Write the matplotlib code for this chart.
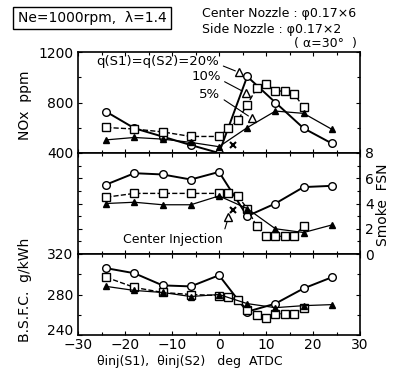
import numpy as np
import matplotlib
matplotlib.use("Agg")
import matplotlib.pyplot as plt

# q = 20 % (circles)
x20 = [-24, -18, -12, -6, 0, 6, 12, 18, 24]
nox20 = [727, 596, 530, 463, 400, 1006, 800, 596, 476]
smoke20 = [5.5, 6.4, 6.3, 5.9, 6.5, 3.0, 4.0, 5.3, 5.4]
bsfc20 = [306, 301, 289, 288, 299, 263, 271, 286, 297]

# q = 10 % (squares)
x10 = [-24, -18, -12, -6, 0, 2, 4, 6, 8, 10, 12, 14, 16, 18]
nox10 = [602, 590, 567, 531, 531, 595, 658, 784, 912, 950, 892, 890, 868, 763]
smoke10 = [4.5, 4.8, 4.8, 4.8, 4.8, 4.8, 4.6, 3.6, 2.2, 1.4, 1.4, 1.4, 1.45, 2.2]
bsfc10 = [297, 287, 282, 280, 279, 278, 275, 265, 260, 257, 261, 261, 261, 267]

# q = 5 % (filled triangles)
x5 = [-24, -18, -12, -6, 0, 6, 12, 18, 24]
nox5 = [504, 523, 510, 484, 450, 601, 732, 714, 588]
smoke5 = [4.0, 4.1, 3.9, 3.9, 4.6, 3.6, 2.0, 1.7, 2.3]
bsfc5 = [288, 284, 282, 278, 280, 271, 267, 269, 270]

# labelled side-injection points (open triangles)
xo = [4.3, 5.7, 7.0]
noxo = [1038, 876, 675]
qlabels = ["q(S1)=q(S2)=20%", "10%", "5%"]
qlabel_pos = [(-13.0, 1122), (-2.8, 1002), (-2.0, 862)]

# center injection
xc_tri, smoke_c_tri = 2.0, 2.9
xc, nox_c, smoke_c = 3.0, 465, 3.5

plt.rcParams["font.family"] = ["DejaVu Sans"]
plt.rcParams["font.size"] = 10

W, H = 394, 370
fig = plt.figure(figsize=(W / 100, H / 100), dpi=100)
L, Wd = 78 / W, 282 / W
ax1 = fig.add_axes([L, 1 - 153 / H, Wd, 101 / H])
ax2 = fig.add_axes([L, 1 - 254 / H, Wd, 101 / H])
ax3 = fig.add_axes([L, 1 - 335 / H, Wd, 81 / H])

ms = 5.5
for ax, d20, d10, d5 in [(ax1, nox20, nox10, nox5),
                         (ax2, smoke20, smoke10, smoke5),
                         (ax3, bsfc20, bsfc10, bsfc5)]:
    ax.plot(x20, d20, "-o", color="black", lw=1.4, ms=ms, mfc="white", mew=1.0)
    ax.plot(x10, d10, "--s", color="black", lw=1.0, ms=ms, mfc="white", mew=1.0)
    ax.plot(x5, d5, "-^", color="black", lw=0.9, ms=4, mfc="black")
    ax.set_xlim(-30, 30)
    ax.set_xticks(range(-30, 31, 10))
    ax.set_xticks(range(-30, 31, 5), minor=True)
    ax.tick_params(which="both", direction="in", top=True, bottom=True,
                   left=True, right=True, length=3, width=0.8)
    ax.tick_params(which="minor", length=2)
    for s in ax.spines.values():
        s.set_linewidth(1.2)

# NOx panel
ax1.plot(xo, noxo, "^", color="black", ms=ms, mfc="white", mew=1.0)
ax1.plot(xc, nox_c, "x", color="black", ms=5, mew=1.5)
ax1.set_ylim(400, 1200)
ax1.set_yticks([400, 800, 1200])
ax1.set_yticks([600, 1000], minor=True)
ax1.tick_params(labelbottom=False)
for lab, (tx, ty), px, py in zip(qlabels, qlabel_pos, xo, noxo):
    ax1.annotate(lab, xy=(px, py), xytext=(tx, ty), ha="center", va="center",
                 fontsize=9.5,
                 arrowprops=dict(arrowstyle="-", lw=0.8, color="black",
                                 shrinkA=1, shrinkB=3,
                                 relpos=(1.0, 0.3)))

# Smoke panel
ax2.plot(xc_tri, smoke_c_tri, "^", color="black", ms=ms, mfc="white", mew=1.0)
ax2.plot(xc, smoke_c, "x", color="black", ms=5, mew=1.5)
ax2.set_ylim(0, 8)
ax2.set_yticks([0, 2, 4, 6, 8])
ax2.set_yticks([1, 3, 5, 7], minor=True)
ax2.tick_params(labelbottom=False, labelleft=False, labelright=True)
ax2.annotate("Center Injection", xy=(xc_tri, smoke_c_tri), xytext=(-9.8, 1.15),
             ha="center", va="center", fontsize=9,
             arrowprops=dict(arrowstyle="-", lw=0.8, color="black",
                             shrinkA=1, shrinkB=3, relpos=(1.0, 0.8)))

# BSFC panel
ax3.set_ylim(240, 320)
ax3.set_yticks([240, 280, 320])
ax3.set_yticks([260, 300], minor=True)
ax3.tick_params(axis="x", pad=2)
ax3.get_yticklabels()[0].set_va("baseline")

fig.text(25 / W, 1 - 105 / H, "NOx  ppm", rotation=90, ha="center", va="center")
fig.text(383 / W, 1 - 205 / H, "Smoke  FSN", rotation=90, ha="center", va="center")
fig.text(25 / W, 1 - 290 / H, "B.S.F.C.  g/kWh", rotation=90, ha="center", va="center")
fig.text(190 / W, 1 - 361 / H, "θinj(S1),  θinj(S2)   deg  ATDC",
         ha="center", va="center", fontsize=9)

fig.text(92 / W, 1 - 18 / H, "Ne=1000rpm,  λ=1.4", ha="center", va="center",
         fontsize=10,
         bbox=dict(boxstyle="square,pad=0.3", fc="white", ec="black", lw=1.0))
fig.text(202 / W, 1 - 14 / H, "Center Nozzle : φ0.17×6", ha="left", va="center",
         fontsize=9)
fig.text(202 / W, 1 - 29 / H, "Side Nozzle : φ0.17×2", ha="left", va="center",
         fontsize=9)
fig.text(357 / W, 1 - 44 / H, "( α=30°  )", ha="right", va="center", fontsize=9)

fig.savefig("out.png", dpi=100)
